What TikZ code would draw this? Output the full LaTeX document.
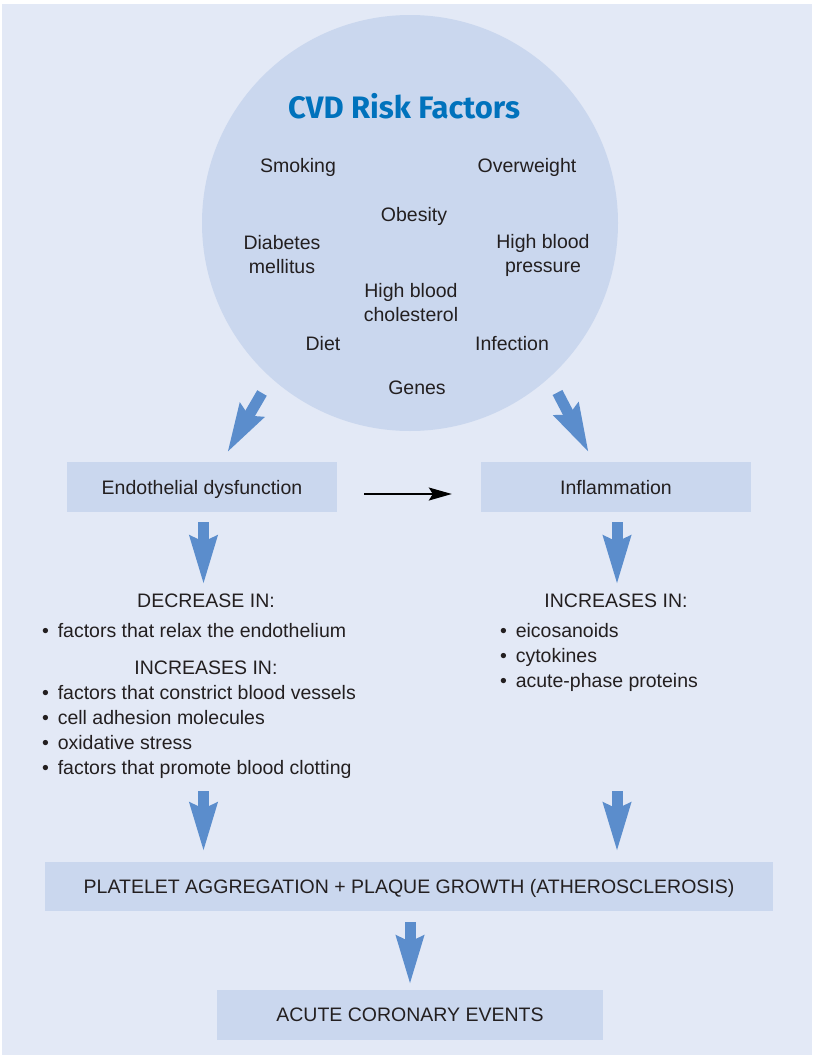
\documentclass[tikz,border=0pt]{standalone}
\usepackage{fontspec}
\setmainfont{Liberation Sans}
\newfontfamily\titlefont{Fira Sans}
\usetikzlibrary{arrows.meta}
\definecolor{bgcol}{RGB}{227,233,246}
\definecolor{boxcol}{RGB}{202,215,238}
\definecolor{arrowcol}{RGB}{91,141,204}
\definecolor{titlecol}{RGB}{0,114,188}
\definecolor{txtcol}{RGB}{35,31,32}
\tikzset{
  lbl/.style={inner sep=0pt, align=center, text=txtcol, font=\fontsize{19.5}{24}\selectfont},
  item/.style={inner sep=0pt, anchor=base west, text=txtcol, font=\fontsize{19.5}{24}\selectfont},
  boxnode/.style={fill=boxcol, draw=none, inner sep=0pt, text depth=0pt, text=txtcol, font=\fontsize{19.5}{24}\selectfont},
  bluearrow/.style={draw=arrowcol, line width=11pt, -{Stealth[length=48pt,width=26pt,inset=5pt]}},
  thinarrow/.style={draw=black, line width=1.3pt, -{Stealth[length=23pt,width=13pt,inset=4pt]}}
}
\newcommand{\bul}{\textbullet\hspace{0.45em}}
\begin{document}
\begin{tikzpicture}[x=1pt,y=-1pt]
\useasboundingbox (0,0) rectangle (812,1055);
\fill[bgcol] (2,4) rectangle (812,1055);
% risk-factor circle
\node[circle, fill=boxcol, minimum size=416pt, inner sep=0pt] (risk) at (410,223) {};
\node[inner sep=0pt, text=titlecol, font=\titlefont\bfseries\fontsize{31}{34}\selectfont] (title) at (404,106) {CVD Risk Factors};
\node[lbl] (smoking) at (298,167) {Smoking};
\node[lbl] (overweight) at (527,167) {Overweight};
\node[lbl] (obesity) at (414,216) {Obesity};
\node[lbl] (diabetes) at (282,255) {Diabetes\\mellitus};
\node[lbl] (hbp) at (543,255) {High blood\\pressure};
\node[lbl] (chol) at (411,303) {High blood\\cholesterol};
\node[lbl] (diet) at (323,344) {Diet};
\node[lbl] (infection) at (512,344) {Infection};
\node[lbl] (genes) at (417,388) {Genes};
% boxes
\node[boxnode, minimum width=270pt, minimum height=50pt] (endo) at (202,487) {Endothelial dysfunction};
\node[boxnode, minimum width=270pt, minimum height=50pt] (infl) at (616,487) {Inflammation};
\node[boxnode, minimum width=728pt, minimum height=49pt] (plat) at (409,886.5) {PLATELET AGGREGATION + PLAQUE GROWTH (ATHEROSCLEROSIS)};
\node[boxnode, minimum width=386pt, minimum height=50pt] (acute) at (410,1015) {ACUTE CORONARY EVENTS};
% left text block
\node[lbl, anchor=base] (dec) at (206,607) {DECREASE IN:};
\node[item] (decA) at (42,637) {\bul factors that relax the endothelium};
\node[lbl, anchor=base] (incl) at (206,674) {INCREASES IN:};
\node[item] (incA) at (42,699) {\bul factors that constrict blood vessels};
\node[item] (incB) at (42,724) {\bul cell adhesion molecules};
\node[item] (incC) at (42,749) {\bul oxidative stress};
\node[item] (incD) at (42,774) {\bul factors that promote blood clotting};
% right text block
\node[lbl, anchor=base] (incr) at (616,607) {INCREASES IN:};
\node[item] (rA) at (500,637) {\bul eicosanoids};
\node[item] (rB) at (500,662) {\bul cytokines};
\node[item] (rC) at (500,687) {\bul acute-phase proteins};
% connector coordinates
\coordinate (d1s) at (262,393); \coordinate (d1e) at (227,453);
\coordinate (d2s) at (557.5,392.5); \coordinate (d2e) at (589,453);
\coordinate (l1s) at (203.5,522); \coordinate (l1e) at (203.5,585);
\coordinate (r1s) at (617,522); \coordinate (r1e) at (617,585);
\coordinate (l2s) at (203.5,791); \coordinate (l2e) at (203.5,852);
\coordinate (r2s) at (617,791); \coordinate (r2e) at (617,852);
\coordinate (bs) at (410,922); \coordinate (be) at (410,985);
\draw[bluearrow] (d1s) -- (d1e);
\draw[bluearrow] (d2s) -- (d2e);
\draw[bluearrow] (l1s) -- (l1e);
\draw[bluearrow] (r1s) -- (r1e);
\draw[bluearrow] (l2s) -- (l2e);
\draw[bluearrow] (r2s) -- (r2e);
\draw[bluearrow] (bs) -- (be);
\draw[thinarrow, shorten <=27pt, shorten >=29pt] ([yshift=-7pt]endo.east) -- ([yshift=-7pt]infl.west);
\end{tikzpicture}
\end{document}
